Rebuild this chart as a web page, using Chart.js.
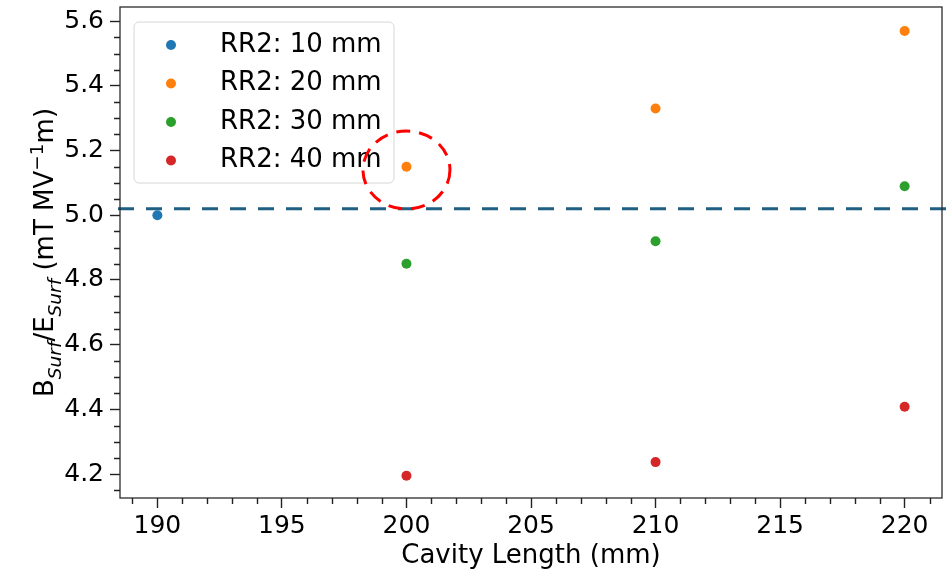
<!DOCTYPE html>
<html>
<head>
<meta charset="utf-8">
<script src="https://cdn.jsdelivr.net/npm/chart.js@4.4.1/dist/chart.umd.min.js"></script>
<style>
  html, body { margin: 0; padding: 0; background: #ffffff; }
  #wrap { width: 948px; height: 573px; }
</style>
</head>
<body>
<div id="wrap"><canvas id="c" width="948" height="573"></canvas></div>
<script>
// ---- data ----
const seriesLabels = ['RR2: 10 mm', 'RR2: 20 mm', 'RR2: 30 mm', 'RR2: 40 mm'];
const seriesColors = ['#1f77b4', '#ff7f0e', '#2ca02c', '#d62728'];
const x10 = [190];
const y10 = [5.00];
const x20 = [200, 210, 220];
const y20 = [5.15, 5.33, 5.57];
const x30 = [200, 210, 220];
const y30 = [4.85, 4.92, 5.09];
const x40 = [200, 210, 220];
const y40 = [4.195, 4.237, 4.408];
const xTicks = [190, 195, 200, 205, 210, 215, 220];
const yTicks = [4.2, 4.4, 4.6, 4.8, 5.0, 5.2, 5.4, 5.6];
const xRange = [188.5, 221.5];
const yRange = [4.126, 5.644];
const referenceLine = 5.02;
const highlight = { x: 200, y: 5.14 };
const xTitle = 'Cavity Length (mm)';
// y title as rich-text pieces: [text, kind]
const yTitleParts = [['B', 'n'], ['Surf', 'sub'], ['/E', 'n'], ['Surf', 'sub'], [' (mT MV', 'n'], ['\u22121', 'sup'], ['m)', 'n']];

// ---- build ----
const FONT = 'DejaVu Sans';
Chart.defaults.font.family = FONT;

function mk(xs, ys) { return xs.map((x, i) => ({ x: x, y: ys[i] })); }
const seriesX = [x10, x20, x30, x40];
const seriesY = [y10, y20, y30, y40];
const datasets = seriesLabels.map((lab, i) => ({
  label: lab,
  data: mk(seriesX[i], seriesY[i]),
  backgroundColor: seriesColors[i],
  borderColor: seriesColors[i],
  borderWidth: 0,
  pointRadius: 5,
  pointHoverRadius: 5
}));

const extras = {
  id: 'extras',
  afterDatasetsDraw(chart) {
    const ctx = chart.ctx, ys = chart.scales.y, a = chart.chartArea;
    const py = ys.getPixelForValue(referenceLine);
    ctx.save();
    ctx.strokeStyle = '#1f5f84';
    ctx.lineWidth = 3;
    ctx.setLineDash([16, 12]);
    ctx.beginPath();
    ctx.moveTo(a.left - 2, py);
    ctx.lineTo(chart.width, py);
    ctx.stroke();
    ctx.restore();
  },
  afterDraw(chart) {
    const ctx = chart.ctx, a = chart.chartArea;
    const xs = chart.scales.x, ys = chart.scales.y;
    ctx.save();
    // spines
    ctx.strokeStyle = '#2b2b2b';
    ctx.lineWidth = 1.3;
    ctx.strokeRect(a.left, a.top, a.right - a.left, a.bottom - a.top);
    // minor ticks
    ctx.strokeStyle = '#222';
    ctx.lineWidth = 1.4;
    ctx.beginPath();
    for (let k = Math.ceil(xs.min); k <= Math.floor(xs.max); k++) {
      if (k % 5 === 0) continue;
      const px = Math.round(xs.getPixelForValue(k)) + 0.5;
      ctx.moveTo(px, a.bottom); ctx.lineTo(px, a.bottom + 6);
    }
    for (let k = Math.ceil(ys.min / 0.05 - 1e-9); k <= Math.floor(ys.max / 0.05 + 1e-9); k++) {
      if (k % 4 === 0) continue;
      const py = Math.round(ys.getPixelForValue(k * 0.05)) + 0.5;
      ctx.moveTo(a.left, py); ctx.lineTo(a.left - 6, py);
    }
    ctx.stroke();

    // y title (rich text, rotated)
    const main = 26, small = 18.5;
    const pieceFont = (kind) => kind === 'n' ? `${main}px "${FONT}"` : (kind === 'sub' ? `italic ${small}px "${FONT}"` : `${small}px "${FONT}"`);
    let total = 0;
    const widths = yTitleParts.map(([t, k]) => { ctx.font = pieceFont(k); const w = ctx.measureText(t).width; total += w; return w; });
    ctx.translate(52.5, (a.top + a.bottom) / 2);
    ctx.rotate(-Math.PI / 2);
    ctx.fillStyle = '#000';
    ctx.textBaseline = 'alphabetic';
    ctx.textAlign = 'left';
    let cx = -total / 2;
    yTitleParts.forEach(([t, k], i) => {
      ctx.font = pieceFont(k);
      const dy = k === 'sub' ? 8 : (k === 'sup' ? -10 : 0);
      ctx.fillText(t, cx, dy);
      cx += widths[i];
    });
    ctx.setTransform(1, 0, 0, 1, 0, 0);

    // legend
    const lx = a.left + 14, ly = a.top + 15, lw = 260, lh = 161, r = 5;
    ctx.beginPath();
    ctx.moveTo(lx + r, ly);
    ctx.arcTo(lx + lw, ly, lx + lw, ly + lh, r);
    ctx.arcTo(lx + lw, ly + lh, lx, ly + lh, r);
    ctx.arcTo(lx, ly + lh, lx, ly, r);
    ctx.arcTo(lx, ly, lx + lw, ly, r);
    ctx.closePath();
    ctx.fillStyle = 'rgba(255,255,255,0.8)';
    ctx.fill();
    ctx.strokeStyle = '#d6d6d6';
    ctx.lineWidth = 1;
    ctx.stroke();
    chart.data.datasets.forEach((ds, i) => {
      const ry = ly + 23 + i * 38.5;
      ctx.beginPath();
      ctx.arc(lx + 37, ry, 5, 0, Math.PI * 2);
      ctx.fillStyle = ds.backgroundColor;
      ctx.fill();
      ctx.fillStyle = '#000';
      ctx.font = `${main}px "${FONT}"`;
      ctx.textBaseline = 'middle';
      ctx.textAlign = 'left';
      ctx.fillText(ds.label, lx + 86, ry);
    });

    // highlight circle
    const hx = xs.getPixelForValue(highlight.x), hy = ys.getPixelForValue(highlight.y);
    ctx.beginPath();
    ctx.ellipse(hx, hy, 43.5, 39, 0, 0, Math.PI * 2);
    ctx.strokeStyle = '#ff0000';
    ctx.lineWidth = 3;
    ctx.setLineDash([14, 9]);
    ctx.stroke();
    ctx.restore();
  }
};

new Chart(document.getElementById('c'), {
  type: 'scatter',
  data: { datasets: datasets },
  options: {
    responsive: false,
    animation: false,
    devicePixelRatio: 1,
    events: [],
    layout: { padding: { left: 0, right: 6, top: 7, bottom: 0 } },
    plugins: { legend: { display: false }, tooltip: { enabled: false } },
    scales: {
      x: {
        type: 'linear',
        min: xRange[0], max: xRange[1],
        afterBuildTicks: s => { s.ticks = xTicks.map(v => ({ value: v })); },
        afterFit: s => { s.height = 75; s.paddingLeft = 0; s.paddingRight = 0; },
        grid: { display: true, drawOnChartArea: false, drawTicks: true, tickLength: 10, tickWidth: 1.4, tickColor: '#222' },
        border: { display: false },
        ticks: { font: { size: 25 }, color: '#000', padding: 3, maxRotation: 0, autoSkip: false, callback: v => String(v) },
        title: { display: true, text: xTitle, font: { size: 26 }, color: '#000', padding: { top: 0, bottom: 1 } }
      },
      y: {
        type: 'linear',
        min: yRange[0], max: yRange[1],
        afterBuildTicks: s => { s.ticks = yTicks.map(v => ({ value: v })); },
        afterFit: s => { s.width = 120; s.paddingTop = 0; s.paddingBottom = 0; },
        grid: { display: true, drawOnChartArea: false, drawTicks: true, tickLength: 10, tickWidth: 1.4, tickColor: '#222' },
        border: { display: false },
        ticks: { font: { size: 25 }, color: '#000', padding: 6, autoSkip: false, callback: v => Number(v).toFixed(1) },
        title: { display: false }
      }
    }
  },
  plugins: [extras]
});
</script>
</body>
</html>
